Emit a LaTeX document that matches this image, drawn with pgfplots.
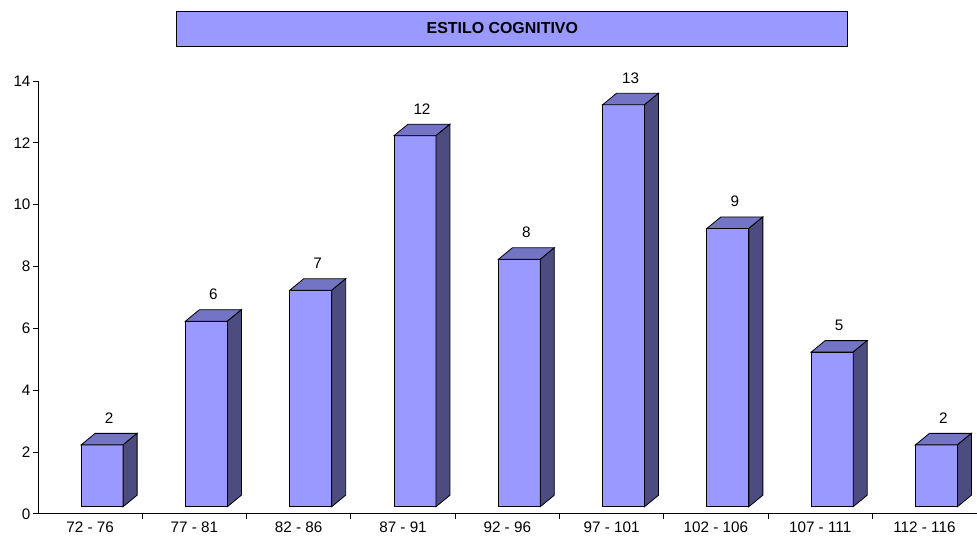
\documentclass[border=0pt]{standalone}
\usepackage{pgfplots}
\pgfplotsset{compat=1.18}
\usepackage{fontspec}
\setmainfont{Liberation Sans}

\definecolor{barfront}{RGB}{153,153,255}
\definecolor{bartop}{RGB}{116,116,196}
\definecolor{barside}{RGB}{76,76,128}

% empty mark: the 3D column is drawn by the scatter code
\pgfdeclareplotmark{column3d}{}

\begin{document}
\begin{tikzpicture}
\begin{axis}[
  anchor=origin, at={(0,0)},
  x=104.33bp, y=30.93bp,
  xmin=0, xmax=9, ymin=0, ymax=14,
  clip=false,
  axis lines=left,
  axis line style={-, black, line width=0.8bp},
  tick align=outside,
  major tick length=5bp, minor tick length=5bp,
  tick style={black, line width=0.8bp},
  ytick={0,2,...,14},
  xtick={0.5,1.5,...,8.5},
  xticklabels={72 - 76, 77 - 81, 82 - 86, 87 - 91, 92 - 96, 97 - 101, 102 - 106, 107 - 111, 112 - 116},
  minor xtick={1,2,...,8},
  major x tick style={draw=none},
  ticklabel style={font=\fontsize{15.3}{18}\selectfont},
  yticklabel style={xshift=1bp},
  /pgf/number format/assume math mode=true,
]
% value: count per class; columns are lifted 0.23 above the floor
\addplot[
  scatter, only marks, mark=column3d,
  visualization depends on={value \thisrow{v} \as \val},
  scatter/@pre marker code/.code={
    \pgfmathsetmacro{\h}{\val*30.93}
    \filldraw[barfront, draw=black, line width=0.8bp]
      (-9bp,-\h bp) rectangle (33bp,0bp);
    \filldraw[bartop, draw=black, line width=0.8bp]
      (-9bp,0bp) -- (33bp,0bp) -- (47bp,11.5bp) -- (5bp,11.5bp) -- cycle;
    \filldraw[barside, draw=black, line width=0.8bp]
      (33bp,0bp) -- (47bp,11.5bp) -- (47bp,11.5bp-\h bp) -- (33bp,-\h bp) -- cycle;
    \node[font=\fontsize{15.3}{18}\selectfont, anchor=center] at (19bp,27bp) {\val};
  },
  scatter/@post marker code/.code={},
] table[x expr=\thisrow{c}+0.5, y expr=\thisrow{v}+0.23] {
c v
0 2
1 6
2 7
3 12
4 8
5 13
6 9
7 5
8 2
};
\end{axis}
\node[draw=black, fill=barfront, line width=0.9bp,
      minimum width=671bp, minimum height=35bp, inner sep=0pt]
  at (474.5bp,485.5bp) {};
\node[font=\bfseries\fontsize{16}{18}\selectfont, inner sep=0pt]
  at (464.5bp,485.5bp) {ESTILO COGNITIVO};
\path[use as bounding box] (-38bp,-27bp) rectangle (939bp,514bp);
\end{tikzpicture}
\end{document}
